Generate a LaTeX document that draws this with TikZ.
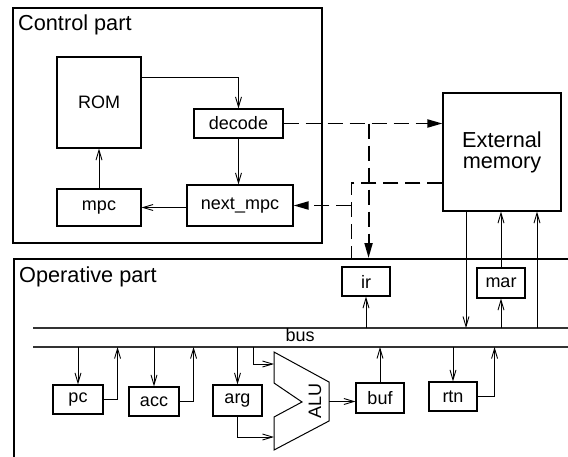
\documentclass[tikz,border=0pt]{standalone}
\usepackage{fontspec}
\setmainfont{Liberation Sans}
\usetikzlibrary{arrows.meta}

\begin{document}
\begin{tikzpicture}[x=1pt,y=-1pt,
    >={Straight Barb[length=10pt,width=6pt]},
    wire/.style={line width=0.9pt},
    busline/.style={line width=1.2pt,black!80},
    link/.style={line width=1.9pt,dash pattern=on 15pt off 7pt},
    fat/.style={-{Triangle[length=15pt,width=8pt]}},
    reg/.style={draw,line width=1.1pt,inner sep=0pt,font=\fontsize{18}{20}\selectfont},
    part/.style={draw,line width=1.5pt,inner sep=0pt},
    parttitle/.style={font=\fontsize{21.7}{22}\selectfont,inner sep=0pt}]
    \useasboundingbox (0,0) rectangle (568,456);
    \clip (0,0) rectangle (568,456);

% Control part
    \node[part,minimum width=309pt,minimum height=235pt,anchor=north west] (ctrl) at (12,7) {};
    \node[parttitle,anchor=base west] (ctrltitle) at (18,30) {Control part};
    \node[reg,minimum width=84pt,minimum height=91pt] (rom) at (99,102.5) {ROM};
    \node[reg,minimum width=89pt,minimum height=29pt] (decode) at (238.5,123.5) {decode};
    \node[reg,minimum width=106pt,minimum height=41pt] (nextmpc) at (240,205.5) {next\_mpc};
    \node[reg,minimum width=84pt,minimum height=37pt] (mpc) at (99,207.5) {mpc};

    \draw[wire,->] ([yshift=25.5pt]rom.east) -| (decode.north);
    \draw[wire,->] (decode.south) -- (decode.south |- nextmpc.north);
    \draw[wire,->] (nextmpc.west |- mpc.east) -- (mpc.east);
    \draw[wire,->] (mpc.north) -- (rom.south);

% External memory
    \node[reg,minimum width=118pt,minimum height=118pt,align=center,
          font=\fontsize{21.7}{21}\selectfont] (extmem) at (502,152) {External\\memory};

% Operative part
    \node[part,minimum width=600pt,minimum height=260pt,anchor=north west] (op) at (13,258) {};
    \node[parttitle,anchor=base west] (optitle) at (19,282) {Operative part};

    % bus
    \coordinate (bustop) at (33,328);
    \coordinate (busbot) at (33,347);
    \draw[busline] (bustop) -- ++(560,0);
    \draw[busline] (busbot) -- ++(560,0);
    \node[reg,draw=none,anchor=base west] (buslabel) at (285,341) {bus};

    % registers
    \node[reg,minimum width=48pt,minimum height=29pt] (ir) at (366,281.5) {ir};
    \node[reg,minimum width=48pt,minimum height=30pt] (mar) at (501,283) {mar};
    \node[reg,minimum width=50pt,minimum height=29pt] (pc) at (78,399.5) {pc};
    \node[reg,minimum width=50pt,minimum height=29pt] (acc) at (154,401.5) {acc};
    \node[reg,minimum width=49pt,minimum height=31pt] (arg) at (237.5,400.5) {arg};
    \node[reg,minimum width=48pt,minimum height=30pt] (buf) at (380,398) {buf};
    \node[reg,minimum width=48pt,minimum height=29pt] (rtn) at (453,396.5) {rtn};

    % ALU
    \draw[line width=1pt] (274,352) -- (329,382) -- (329,421) -- (274,450) -- (274,417)
        -- (302,402) -- (274,383) -- cycle;
    \coordinate (aluin1) at (274,364);
    \coordinate (aluin2) at (274,437);
    \coordinate (aluout) at (329,401.5);
    \node[reg,draw=none,rotate=90] (alulabel) at (315,401) {ALU};

% Dashed control lines
    \coordinate (tapir) at ([xshift=85pt]decode.east);
    \coordinate (memret) at ([yshift=-31pt]extmem.west);
    \coordinate (tapret) at ([xshift=-91pt]memret);
    \draw[link,fat] (decode.east) -- (decode.east -| extmem.west);
    \draw[link,fat] (tapir) -- (tapir |- op.north);
    \draw[link] (memret) -- (tapret) -- (tapret |- op.north);
    \draw[link,fat] (tapret |- nextmpc.east) -- (nextmpc.east);

% Bus connections
    \coordinate (memdown) at ([xshift=-36pt]extmem.south);
    \coordinate (memup) at ([xshift=35pt]extmem.south);
    \coordinate (pcup) at ([xshift=14pt]pc.east);
    \coordinate (accup) at ([xshift=14pt]acc.east);
    \coordinate (rtnup) at ([xshift=17pt]rtn.east);
    \coordinate (bustap) at (253,347);

    \draw[wire,->] (ir.south |- bustop) -- (ir.south);
    \draw[wire,->] (mar.south |- bustop) -- (mar.south);
    \draw[wire,->] (mar.north) -- (mar.north |- extmem.south);
    \draw[wire,->] (memdown) -- (memdown |- bustop);
    \draw[wire,->] (memup |- bustop) -- (memup);

    \draw[wire,->] (pc.north |- busbot) -- (pc.north);
    \draw[wire,->] (pc.east) -- (pcup) -- (pcup |- busbot);
    \draw[wire,->] (acc.north |- busbot) -- (acc.north);
    \draw[wire,->] (acc.east) -- (accup) -- (accup |- busbot);
    \draw[wire,->] (arg.north |- busbot) -- (arg.north);
    \draw[wire,->] (arg.south) |- (aluin2);
    \draw[wire,->] (bustap) |- (aluin1);
    \draw[wire,->] (aluout) -- (aluout -| buf.west);
    \draw[wire,->] (buf.north) -- (buf.north |- busbot);
    \draw[wire,->] (rtn.north |- busbot) -- (rtn.north);
    \draw[wire,->] (rtn.east) -- (rtnup) -- (rtnup |- busbot);

\end{tikzpicture}
\end{document}
